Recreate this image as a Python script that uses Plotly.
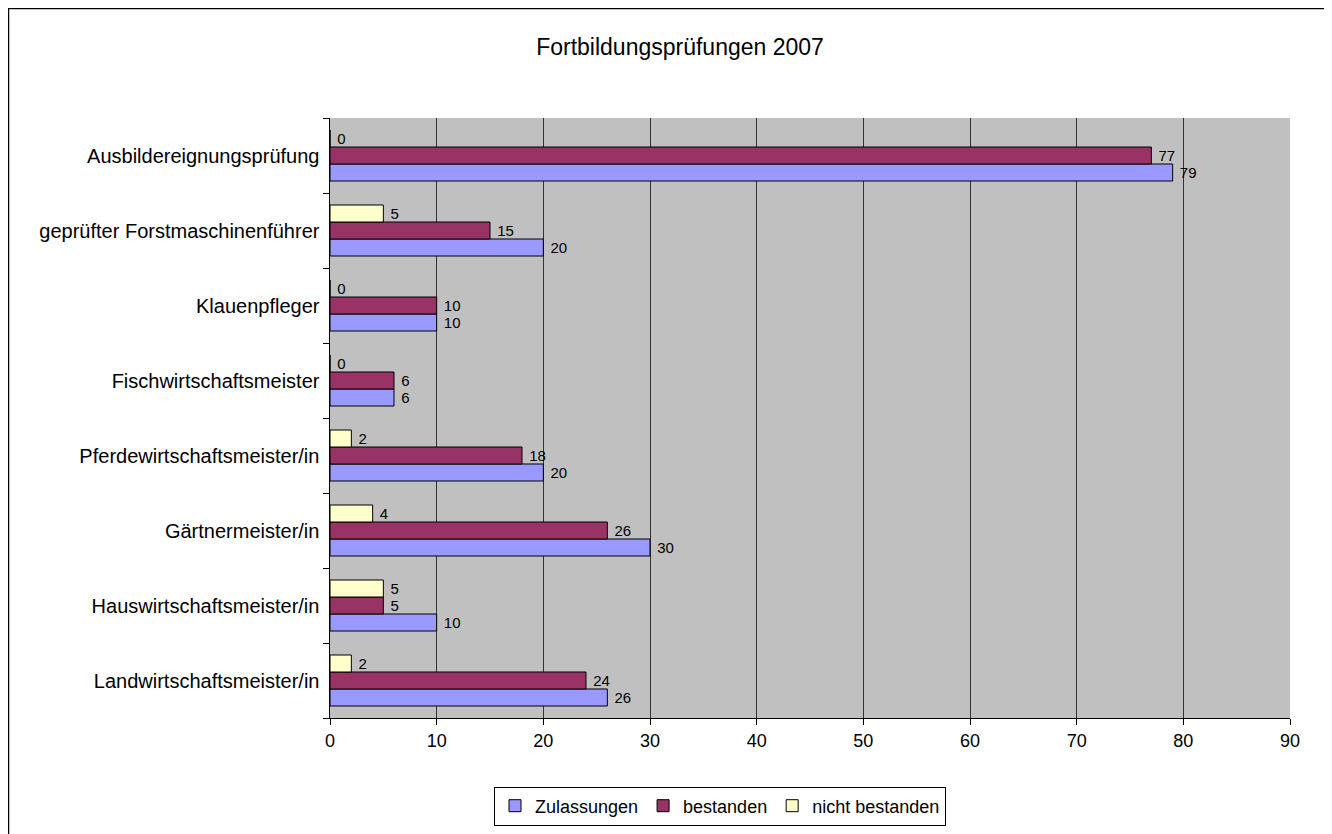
import plotly.graph_objects as go

# categories listed bottom to top (plotly draws the first category at the bottom)
categories = [
    "Landwirtschaftsmeister/in",
    "Hauswirtschaftsmeister/in",
    "Gärtnermeister/in",
    "Pferdewirtschaftsmeister/in",
    "Fischwirtschaftsmeister",
    "Klauenpfleger",
    "geprüfter Forstmaschinenführer",
    "Ausbildereignungsprüfung",
]
zulassungen = [26, 10, 30, 20, 6, 10, 20, 79]
bestanden = [24, 5, 26, 18, 6, 10, 15, 77]
nicht_bestanden = [2, 5, 4, 2, 0, 0, 5, 0]

series = [
    ("Zulassungen", zulassungen, "#9999FF"),
    ("bestanden", bestanden, "#993366"),
    ("nicht bestanden", nicht_bestanden, "#FFFFCC"),
]

# page has an 8px body margin, so positions below are shifted by 8px
L, T, W, H = 322, 110, 960, 600

fig = go.Figure()
for name, vals, col in series:
    fig.add_trace(go.Bar(
        y=categories, x=vals, name=name, orientation="h",
        marker=dict(color=col, line=dict(color="black", width=1)),
        text=vals, texttemplate=" %{x}", textposition="outside",
        cliponaxis=False,
        textfont=dict(size=15, color="black", family="Arial"),
    ))

fig.update_layout(
    width=1332, height=834,
    margin=dict(l=L, r=1332 - L - W, t=T, b=834 - T - H),
    paper_bgcolor="white", plot_bgcolor="#C0C0C0",
    barmode="group", bargap=0.32, bargroupgap=0,
    font=dict(family="Arial", size=19, color="black"),
    title=dict(text="Fortbildungsprüfungen 2007", xref="container",
               x=(680 - 8) / 1332, xanchor="center", y=1 - 39 / 834,
               yanchor="middle", font=dict(size=23)),
    legend=dict(orientation="h", x=(720 - 330) / 960, xanchor="center",
                y=(718 - 806) / 600, yanchor="middle",
                bordercolor="black", borderwidth=1, font=dict(size=18),
                traceorder="normal", tracegroupgap=0),
    xaxis=dict(range=[0, 90], dtick=10, showgrid=True, gridcolor="#333333",
               gridwidth=1, ticks="outside", ticklen=6, tickcolor="black",
               showline=True, linecolor="black", zeroline=False,
               tickfont=dict(size=18)),
    yaxis=dict(showline=True, linecolor="black", ticks="outside",
               tickson="boundaries", ticklen=6, tickcolor="black",
               tickfont=dict(size=20), ticksuffix=" "),
    shapes=[dict(type="rect", xref="paper", yref="paper",
                 x0=(0.5 - L) / W, x1=(1318 - L) / W,
                 y0=(T + H - 900) / H, y1=(T + H - 0.5) / H,
                 line=dict(color="black", width=1.5), layer="below")],
)

fig.write_html("out.html")
